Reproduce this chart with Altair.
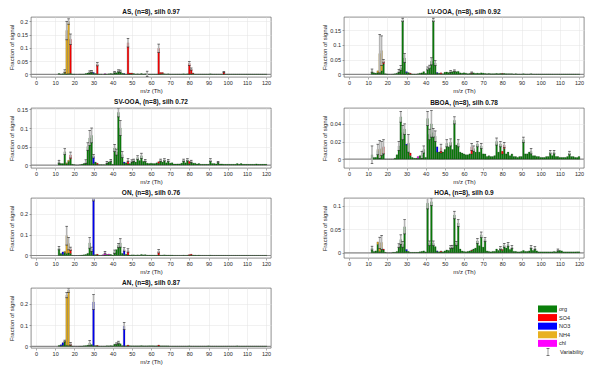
import altair as alt
import pandas as pd

MZ = list(range(12, 121))
FAMILIES = ["org", "SO4", "NO3", "NH4", "chl"]
COLORS = ["#0b800b", "#ff0000", "#0000ff", "#e8b120", "#ff00ff"]
X_TICKS = list(range(0, 121, 10))

# ---------------- AS ----------------
AS_org = [0.003, 0.001, 0.002, 0.004, 0.002, 0.003, 0.004, 0.001,
          0.001, 0, 0, 0.001, 0.001, 0.001, 0.003, 0.005, 0.009, 0.011,
          0.004, 0.003, 0.002, 0.001, 0.001, 0, 0.001, 0.001, 0.002, 0.003,
          0.002, 0.008, 0.006, 0.013, 0.012, 0.004, 0.002, 0.001, 0.001, 0.001,
          0.002, 0.003, 0.001, 0.002, 0.001, 0.003, 0.001, 0.002, 0.002, 0.001,
          0.001, 0.001, 0.001, 0.001, 0.001, 0.002, 0.003, 0.002, 0.001, 0.002,
          0.001, 0.001, 0.001, 0.001, 0.001, 0.001, 0.001, 0.002, 0.001, 0.002,
          0.001, 0.002, 0.003, 0.001, 0.001, 0.001, 0.001, 0.001, 0.001, 0.001,
          0.001, 0.002, 0.001, 0.001, 0.001, 0.001, 0.001, 0.001, 0.001, 0.001,
          0.001, 0.001, 0.001, 0.001, 0.001, 0.001, 0.001, 0.001, 0.001, 0.001,
          0.001, 0.001, 0.001, 0.001, 0.001, 0.001, 0.001, 0.001, 0.001, 0.001,
          0.001]
AS_SO4 = {18: 0.128, 32: 0.036, 48: 0.118, 49: 0.004, 50: 0.003, 64: 0.097,
          65: 0.005, 66: 0.004, 80: 0.04, 81: 0.018, 82: 0.002, 98: 0.008}
AS_NO3 = {30: 0.003, 46: 0.001}
AS_NH4 = {15: 0.008, 16: 0.163, 17: 0.196}
AS_chl = {36: 0.001}
AS_err = {15: 0.005, 16: 0.035, 17: 0.01, 18: 0.02, 28: 0.004, 29: 0.004,
          32: 0.006, 41: 0.003, 43: 0.004, 44: 0.004, 48: 0.016, 58: 0.01,
          64: 0.016, 80: 0.007, 81: 0.004, 98: 0.002}

# ---------------- LV-OOA ----------------
LV_org = [0.012, 0.005, 0.004, 0.006, 0.004, 0.012, 0.035, 0.002,
          0.001, 0, 0, 0.001, 0.002, 0.004, 0.012, 0.022, 0.184, 0.055,
          0.006, 0.006, 0.002, 0.001, 0.001, 0.001, 0.002, 0.004, 0.005, 0.009,
          0.003, 0.02, 0.025, 0.044, 0.184, 0.038, 0.004, 0.004, 0.002, 0.002,
          0.007, 0.008, 0.006, 0.01, 0.009, 0.012, 0.009, 0.01, 0.005, 0.004,
          0.005, 0.004, 0.002, 0.003, 0.003, 0.005, 0.003, 0.004, 0.003, 0.005,
          0.004, 0.003, 0.002, 0.003, 0.002, 0.002, 0.002, 0.003, 0.002, 0.003,
          0.002, 0.003, 0.002, 0.002, 0.002, 0.002, 0.001, 0.002, 0.001, 0.001,
          0.001, 0.002, 0.001, 0.001, 0.001, 0.002, 0.001, 0.001, 0.001, 0.001,
          0.001, 0.001, 0.001, 0.001, 0.001, 0.001, 0.001, 0.001, 0.001, 0.001,
          0.001, 0.001, 0.001, 0.001, 0.001, 0.001, 0.001, 0.001, 0.001, 0.001,
          0.001]
LV_SO4 = {18: 0.01, 32: 0.002, 48: 0.003, 64: 0.003, 80: 0.001}
LV_NO3 = {30: 0.003, 46: 0.002}
LV_NH4 = {15: 0.006, 16: 0.066, 17: 0.068}
LV_chl = {}
LV_err = {12: 0.006, 16: 0.065, 17: 0.05, 18: 0.006, 26: 0.005, 27: 0.008,
          28: 0.006, 29: 0.015, 41: 0.005, 42: 0.006, 43: 0.012, 44: 0.006,
          45: 0.008, 53: 0.003, 55: 0.003, 64: 0.002}

# ---------------- SV-OOA ----------------
SV_org = [0.009, 0.004, 0.004, 0.036, 0.004, 0.01, 0.017, 0.002,
          0.001, 0, 0, 0.001, 0.002, 0.004, 0.009, 0.05, 0.073, 0.08,
          0.004, 0.008, 0.002, 0.001, 0.001, 0.001, 0.001, 0.007, 0.008, 0.012,
          0.002, 0.046, 0.035, 0.142, 0.1, 0.028, 0.005, 0.006, 0.003, 0.004,
          0.011, 0.013, 0.008, 0.02, 0.012, 0.025, 0.01, 0.012, 0.005, 0.004,
          0.005, 0.004, 0.004, 0.006, 0.005, 0.013, 0.008, 0.014, 0.006, 0.012,
          0.005, 0.006, 0.003, 0.003, 0.003, 0.003, 0.005, 0.013, 0.006, 0.014,
          0.004, 0.01, 0.005, 0.005, 0.003, 0.004, 0.002, 0.002, 0.002, 0.002,
          0.002, 0.013, 0.004, 0.004, 0.003, 0.008, 0.003, 0.003, 0.002, 0.002,
          0.002, 0.002, 0.002, 0.002, 0.002, 0.004, 0.002, 0.004, 0.002, 0.002,
          0.002, 0.002, 0.002, 0.002, 0.002, 0.003, 0.002, 0.002, 0.002, 0.002,
          0.002]
SV_SO4 = {18: 0.01, 32: 0.003, 48: 0.01, 64: 0.004, 80: 0.006}
SV_NO3 = {30: 0.02, 46: 0.003}
SV_NH4 = {16: 0.002, 17: 0.003}
SV_chl = {}
SV_err = {12: 0.004, 15: 0.008, 18: 0.008, 26: 0.005, 27: 0.01, 28: 0.02,
          29: 0.02, 30: 0.005, 37: 0.003, 39: 0.003, 41: 0.01, 42: 0.008,
          43: 0.012, 44: 0.02, 45: 0.008, 48: 0.004, 50: 0.003, 51: 0.003,
          53: 0.005, 55: 0.007, 57: 0.003, 65: 0.003, 67: 0.003, 69: 0.003,
          77: 0.003, 79: 0.003, 81: 0.003, 91: 0.004, 95: 0.002}

# ---------------- BBOA ----------------
BB_org = [0.005, 0.002, 0.002, 0.009, 0.002, 0.006, 0.006, 0,
          0, 0, 0, 0, 0.001, 0.005, 0.015, 0.048, 0.03, 0.034,
          0.016, 0.018, 0.004, 0.002, 0.001, 0.001, 0.001, 0.004, 0.005, 0.011,
          0.002, 0.046, 0.028, 0.04, 0.03, 0.026, 0.008, 0.008, 0.007, 0.008,
          0.011, 0.018, 0.014, 0.019, 0.011, 0.044, 0.016, 0.018, 0.008, 0.007,
          0.006, 0.005, 0.005, 0.006, 0.006, 0.012, 0.008, 0.017, 0.008, 0.015,
          0.006, 0.006, 0.003, 0.004, 0.003, 0.003, 0.004, 0.02, 0.008, 0.017,
          0.006, 0.012, 0.006, 0.008, 0.004, 0.006, 0.003, 0.003, 0.002, 0.003,
          0.003, 0.022, 0.006, 0.006, 0.008, 0.009, 0.004, 0.004, 0.003, 0.003,
          0.002, 0.002, 0.002, 0.003, 0.003, 0.008, 0.004, 0.008, 0.003, 0.003,
          0.002, 0.002, 0.002, 0.002, 0.003, 0.007, 0.003, 0.003, 0.002, 0.002,
          0.003]
BB_SO4 = {18: 0.008, 32: 0.003, 48: 0.006, 64: 0.008, 80: 0.003, 81: 0.004}
BB_NO3 = {30: 0.001, 46: 0.006}
BB_NH4 = {15: 0.002, 16: 0.009, 17: 0.006}
BB_chl = {36: 0.002}
BB_err = {12: 0.01, 15: 0.006, 16: 0.01, 17: 0.008, 18: 0.008, 26: 0.005,
          27: 0.006, 28: 0.008, 29: 0.006, 31: 0.01, 38: 0.004, 39: 0.004,
          41: 0.008, 42: 0.006, 43: 0.015, 44: 0.005, 45: 0.006, 48: 0.004,
          51: 0.004, 53: 0.004, 55: 0.004, 57: 0.004, 64: 0.004, 65: 0.003,
          67: 0.003, 69: 0.003, 77: 0.004, 79: 0.003, 81: 0.003, 91: 0.003,
          95: 0.003, 105: 0.002, 107: 0.002, 115: 0.002}

# ---------------- ON ----------------
ON_org = [0.035, 0.01, 0.005, 0.015, 0.01, 0.012, 0.01, 0.001,
          0, 0, 0, 0.001, 0.002, 0.003, 0.005, 0.01, 0.06, 0.03,
          0.003, 0.004, 0.002, 0.001, 0.001, 0.001, 0.002, 0.003, 0.003, 0.005,
          0.002, 0.018, 0.028, 0.048, 0.06, 0.01, 0.004, 0.006, 0.002, 0.002,
          0.003, 0.003, 0.002, 0.003, 0.002, 0.005, 0.003, 0.004, 0.002, 0.002,
          0.002, 0.002, 0.002, 0.002, 0.002, 0.002, 0.002, 0.003, 0.002, 0.002,
          0.002, 0.002, 0.001, 0.001, 0.001, 0.001, 0.001, 0.002, 0.001, 0.002,
          0.001, 0.002, 0.002, 0.002, 0.001, 0.002, 0.001, 0.001, 0.001, 0.001,
          0.001, 0.002, 0.001, 0.001, 0.001, 0.001, 0.001, 0.001, 0.001, 0.001,
          0.001, 0.001, 0.001, 0.001, 0.001, 0.001, 0.001, 0.001, 0.001, 0.001,
          0.001, 0.001, 0.001, 0.001, 0.001, 0.001, 0.001, 0.001, 0.001, 0.001,
          0.001]
ON_SO4 = {18: 0.022, 32: 0.004, 48: 0.022, 64: 0.018, 80: 0.003, 81: 0.004}
ON_NO3 = {14: 0.012, 30: 0.268, 46: 0.025}
ON_NH4 = {15: 0.005, 16: 0.085, 17: 0.045}
ON_chl = {35: 0.003, 36: 0.012, 37: 0.002, 38: 0.004}
ON_err = {12: 0.008, 16: 0.045, 17: 0.03, 18: 0.008, 28: 0.025, 29: 0.01,
          30: 0.01, 36: 0.006, 41: 0.008, 43: 0.01, 44: 0.02, 46: 0.008,
          48: 0.008, 64: 0.008}

# ---------------- HOA ----------------
HOA_org = [0.01, 0.003, 0.004, 0.018, 0.003, 0.01, 0.006, 0.001,
           0, 0, 0, 0.001, 0.001, 0.003, 0.015, 0.028, 0.018, 0.055,
           0.004, 0.003, 0.001, 0.001, 0.001, 0.001, 0.001, 0.002, 0.003, 0.004,
           0.002, 0.105, 0.02, 0.108, 0.02, 0.013, 0.003, 0.002, 0.002, 0.002,
           0.004, 0.006, 0.005, 0.012, 0.013, 0.08, 0.02, 0.063, 0.008, 0.004,
           0.003, 0.002, 0.003, 0.004, 0.005, 0.008, 0.01, 0.025, 0.015, 0.038,
           0.012, 0.028, 0.004, 0.003, 0.002, 0.003, 0.003, 0.008, 0.005, 0.01,
           0.005, 0.016, 0.01, 0.018, 0.007, 0.012, 0.003, 0.003, 0.002, 0.002,
           0.003, 0.005, 0.003, 0.003, 0.004, 0.012, 0.005, 0.01, 0.004, 0.002,
           0.002, 0.002, 0.002, 0.002, 0.002, 0.002, 0.002, 0.003, 0.002, 0.006,
           0.005, 0.004, 0.002, 0.002, 0.002, 0.002, 0.002, 0.002, 0.002, 0.002,
           0.002]
HOA_SO4 = {18: 0.002, 48: 0.002, 64: 0.001, 80: 0.002}
HOA_NO3 = {30: 0.003, 46: 0.001}
HOA_NH4 = {15: 0.005, 16: 0.018, 17: 0.012}
HOA_chl = {}
HOA_err = {12: 0.004, 16: 0.012, 17: 0.015, 26: 0.004, 27: 0.01, 28: 0.006,
           29: 0.015, 41: 0.012, 42: 0.005, 43: 0.008, 44: 0.005, 53: 0.003,
           54: 0.003, 55: 0.008, 56: 0.004, 57: 0.007, 67: 0.005, 69: 0.006,
           71: 0.004, 79: 0.003, 81: 0.004, 83: 0.004, 85: 0.003, 95: 0.003,
           97: 0.003, 109: 0.002}

# ---------------- AN ----------------
AN_org = [0.004, 0.003, 0.005, 0.02, 0.005, 0.004, 0.004, 0.001,
          0, 0, 0, 0.001, 0.001, 0.002, 0.003, 0.005, 0.015, 0.008,
          0.003, 0.003, 0.002, 0.001, 0.001, 0.001, 0.001, 0.002, 0.002, 0.003,
          0.002, 0.01, 0.012, 0.018, 0.012, 0.003, 0.002, 0.002, 0.002, 0.002,
          0.002, 0.002, 0.002, 0.002, 0.002, 0.003, 0.002, 0.002, 0.002, 0.002,
          0.002, 0.002, 0.002, 0.002, 0.002, 0.002, 0.002, 0.002, 0.002, 0.002,
          0.001, 0.001, 0.001, 0.001, 0.001, 0.001, 0.001, 0.001, 0.001, 0.001,
          0.002, 0.001, 0.001, 0.001, 0.001, 0.001, 0.001, 0.001, 0.001, 0.001,
          0.002, 0.001, 0.001, 0.001, 0.001, 0.001, 0.001, 0.001, 0.001, 0.001,
          0.001, 0.001, 0.001, 0.001, 0.001, 0.002, 0.001, 0.001, 0.001, 0.001,
          0.001, 0.001, 0.001, 0.001, 0.001, 0.001, 0.001, 0.001, 0.001, 0.001,
          0.001]
AN_SO4 = {18: 0.008, 32: 0.002, 48: 0.004, 64: 0.004}
AN_NO3 = {13: 0.004, 14: 0.012, 30: 0.205, 46: 0.093}
AN_NH4 = {15: 0.005, 16: 0.235, 17: 0.26}
AN_chl = {}
AN_err = {15: 0.004, 16: 0.012, 17: 0.01, 18: 0.006, 28: 0.012, 30: 0.035,
          42: 0.004, 43: 0.006, 46: 0.017}

LEGEND_LABELS = ["org", "SO4", "NO3", "NH4", "chl"]
VAR_LABEL = "Variability"

FONT = "Liberation Sans"
color_scale = alt.Scale(domain=FAMILIES, range=COLORS)


def panel(title, org, so4, no3, nh4, chl, err, ydom, yvals):
    rows = [{"mz": m, "fam": "org", "k": 0, "value": v} for m, v in zip(MZ, org)]
    for k, (fam, d) in enumerate([("SO4", so4), ("NO3", no3), ("NH4", nh4), ("chl", chl)], start=1):
        for m, v in d.items():
            rows.append({"mz": m, "fam": fam, "k": k, "value": v})
    bars = pd.DataFrame(rows)
    top = bars.groupby("mz")["value"].sum()
    e = pd.DataFrame({"mz": list(err.keys()), "e": list(err.values())})
    e["mid"] = e["mz"].map(top)
    e["lo"] = e["mid"] - e["e"]
    e["hi"] = e["mid"] + e["e"]
    caps = pd.concat([e[["mz"]].assign(v=e["lo"]), e[["mz"]].assign(v=e["hi"])])

    xs = alt.Scale(domain=[0, 120], nice=False, zero=False)
    xa = alt.Axis(values=X_TICKS, title="m/z (Th)", format="d")
    ys = alt.Scale(domain=ydom, nice=False, zero=False)
    ya = alt.Axis(values=yvals, format=".2~f", title="Fraction of signal")

    zero = alt.Chart(pd.DataFrame({"value": [0]})).mark_rule(
        color="#8a8a8a", strokeWidth=1.2).encode(y=alt.Y("value:Q", scale=ys, axis=ya))
    bar = alt.Chart(bars).mark_bar(size=1.7, stroke="#000000", strokeWidth=0.2,
                                   opacity=1, fillOpacity=1, clip=True).encode(
        x=alt.X("mz:Q", scale=xs, axis=xa),
        y=alt.Y("value:Q", stack="zero", scale=ys, axis=ya),
        color=alt.Color("fam:N", scale=color_scale, legend=None),
        order=alt.Order("k:Q", sort="ascending"),
    )
    erule = alt.Chart(e).mark_rule(color="#b4b4b4", strokeWidth=1.6, clip=True).encode(
        x=alt.X("mz:Q", scale=xs, axis=xa),
        y=alt.Y("lo:Q", scale=ys, axis=ya),
        y2="hi:Q",
    )
    ecap = alt.Chart(caps).mark_tick(orient="horizontal", size=2.6, thickness=0.6,
                                     color="#222222", opacity=1, clip=True).encode(
        x=alt.X("mz:Q", scale=xs, axis=xa),
        y=alt.Y("v:Q", scale=ys, axis=ya),
    )
    return alt.layer(zero, bar, erule, ecap).properties(width=240, height=60, title=title)


p_AS = panel("AS, (n=8), silh 0.97", AS_org, AS_SO4, AS_NO3, AS_NH4, AS_chl, AS_err,
             [-0.01, 0.216], [0, 0.05, 0.1, 0.15, 0.2])
p_LV = panel("LV-OOA, (n=8), silh 0.92", LV_org, LV_SO4, LV_NO3, LV_NH4, LV_chl, LV_err,
             [-0.009, 0.194], [0, 0.05, 0.1, 0.15])
p_SV = panel("SV-OOA, (n=8), silh 0.72", SV_org, SV_SO4, SV_NO3, SV_NH4, SV_chl, SV_err,
             [-0.008, 0.154], [0, 0.05, 0.1, 0.15])
p_BB = panel("BBOA, (n=8), silh 0.78", BB_org, BB_SO4, BB_NO3, BB_NH4, BB_chl, BB_err,
             [-0.01, 0.058], [0, 0.02, 0.04])
p_ON = panel("ON, (n=8), silh 0.76", ON_org, ON_SO4, ON_NO3, ON_NH4, ON_chl, ON_err,
             [-0.012, 0.275], [0, 0.1, 0.2])
p_HOA = panel("HOA, (n=8), silh 0.9", HOA_org, HOA_SO4, HOA_NO3, HOA_NH4, HOA_chl, HOA_err,
              [-0.011, 0.116], [0, 0.05, 0.1])
p_AN = panel("AN, (n=8), silh 0.87", AN_org, AN_SO4, AN_NO3, AN_NH4, AN_chl, AN_err,
             [-0.008, 0.274], [0, 0.1, 0.2])

# ---------------- legend panel ----------------
leg = pd.DataFrame({"label": LEGEND_LABELS, "fam": FAMILIES, "idx": list(range(len(FAMILIES)))})
var_idx = len(FAMILIES)
var_df = pd.DataFrame({"label": [VAR_LABEL], "idx": [var_idx],
                       "lo": [var_idx - 0.4], "hi": [var_idx + 0.4]})
var_caps = pd.DataFrame({"v": [var_idx - 0.4, var_idx + 0.4]})
ls = alt.Scale(domain=[-2.44, 4.54], reverse=True, nice=False, zero=False)

sw = alt.Chart(leg).mark_tick(orient="horizontal", size=19, thickness=7, opacity=1).encode(
    x=alt.value(225.5), y=alt.Y("idx:Q", scale=ls, axis=None),
    color=alt.Color("fam:N", scale=color_scale, legend=None))
lt = alt.Chart(leg).mark_text(align="left", baseline="middle", fontSize=5.5, font=FONT,
                              color="#222222").encode(
    x=alt.value(237), y=alt.Y("idx:Q", scale=ls, axis=None), text="label:N")
vr = alt.Chart(var_df).mark_rule(color="#999999", strokeWidth=1).encode(
    x=alt.value(226), y=alt.Y("lo:Q", scale=ls, axis=None), y2="hi:Q")
vc = alt.Chart(var_caps).mark_tick(orient="horizontal", size=3, thickness=0.6,
                                   color="#222222", opacity=1).encode(
    x=alt.value(226), y=alt.Y("v:Q", scale=ls, axis=None))
vt = alt.Chart(var_df).mark_text(align="left", baseline="middle", fontSize=5.5, font=FONT,
                                 color="#222222").encode(
    x=alt.value(238), y=alt.Y("idx:Q", scale=ls, axis=None), text="label:N")
legend_panel = alt.layer(sw, lt, vr, vc, vt).properties(
    width=240, height=60, view=alt.ViewBackground(stroke="transparent"))

row1 = alt.hconcat(p_AS, p_LV, spacing=49)
row2 = alt.hconcat(p_SV, p_BB, spacing=49)
row3 = alt.hconcat(p_ON, p_HOA, spacing=49)
row4 = alt.hconcat(p_AN, legend_panel, spacing=49)

chart = alt.vconcat(row1, row2, row3, row4, spacing=4, padding=0).configure_axis(
    labelFont=FONT, titleFont=FONT, labelFontSize=5.5, titleFontSize=6,
    labelColor="#262626", titleColor="#262626", tickSize=2, tickColor="#555555",
    tickWidth=0.5, domain=False, grid=True, gridColor="#e2e2e2", gridWidth=0.5,
    labelPadding=1.5, titlePadding=1.5, titleFontWeight="normal",
).configure_axisY(minExtent=15, maxExtent=15).configure_view(
    stroke="#444444", strokeWidth=0.6
).configure_title(
    font=FONT, fontSize=6.5, fontWeight="bold", offset=2, color="#111111"
)

chart.save("out.html", embed_options={"renderer": "svg", "actions": False})
